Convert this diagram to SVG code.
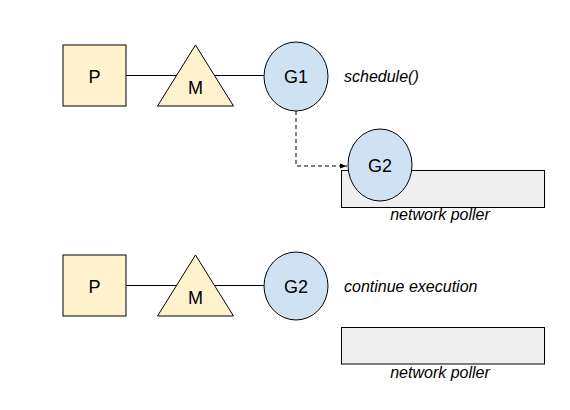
<svg xmlns="http://www.w3.org/2000/svg" width="570" height="410" viewBox="0 0 570 410">
<style>
text{font-family:"Liberation Sans",Arial,sans-serif;fill:#000}
.lbl{font-size:18px;text-anchor:middle}
.it{font-size:16px;font-style:italic}
.p{fill:#fff2cc;stroke:#000;stroke-width:1}
.g{fill:#cfe2f3;stroke:#000;stroke-width:1}
.np{fill:#efefef;stroke:#000;stroke-width:1}
.c{stroke:#000;stroke-width:1;fill:none}
</style>
<defs>
<marker id="ah" markerWidth="8" markerHeight="8" refX="7" refY="4" orient="auto" markerUnits="userSpaceOnUse">
<path d="M0,1.5 L7,4 L0,6.5 Z" fill="#000"/>
</marker>
</defs>
<rect width="570" height="410" fill="#fff"/>
<g id="connectors">
<line class="c" x1="126" y1="75.5" x2="264" y2="75.5"/>
<line class="c" x1="126" y1="285.5" x2="264" y2="285.5"/>
<path class="c" d="M296,111 V166 H347" stroke-dasharray="4,3" marker-end="url(#ah)"/>
</g>
<g id="p1"><rect class="p" x="63" y="45" width="63" height="61"/><text class="lbl" x="94.5" y="83">P</text></g>
<g id="m1"><polygon class="p" points="195.5,45 157.5,106 233.5,106"/><text class="lbl" x="195.5" y="93.5">M</text></g>
<g id="g1"><ellipse class="g" cx="296" cy="76.5" rx="32" ry="34.5"/><text class="lbl" x="296" y="83">G1</text></g>
<g id="sched"><text class="it" x="344" y="82">schedule()</text></g>
<g id="np1"><rect class="np" x="341.5" y="170.5" width="203" height="37"/><text class="it" x="440" y="220" text-anchor="middle">network poller</text></g>
<g id="g2a"><ellipse class="g" cx="380" cy="165" rx="32" ry="36"/><text class="lbl" x="380" y="172">G2</text></g>
<g id="p2"><rect class="p" x="63" y="255" width="63" height="61"/><text class="lbl" x="94.5" y="293">P</text></g>
<g id="m2"><polygon class="p" points="195.5,255 157.5,316 233.5,316"/><text class="lbl" x="195.5" y="303.5">M</text></g>
<g id="g2b"><ellipse class="g" cx="296" cy="286" rx="32" ry="34"/><text class="lbl" x="296" y="293">G2</text></g>
<g id="cont"><text class="it" x="344" y="292">continue execution</text></g>
<g id="np2"><rect class="np" x="341.5" y="327.5" width="203" height="36.5"/><text class="it" x="440" y="378" text-anchor="middle">network poller</text></g>
</svg>
